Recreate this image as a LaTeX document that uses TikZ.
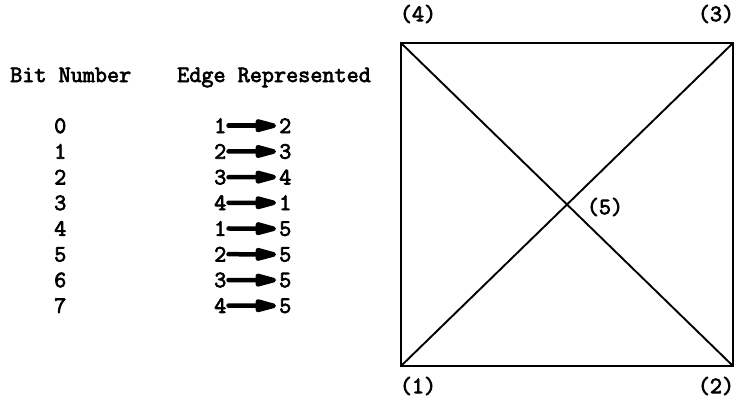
\documentclass[tikz,border=0pt]{standalone}
\usepackage{fontspec}
\newfontfamily\tw{Latin Modern Mono}[FakeBold=3]
\usetikzlibrary{arrows.meta,calc}
\tikzset{
  txt/.style={font=\tw\fontsize{23.5}{26}\selectfont, inner sep=0pt, anchor=base west},
  lbl/.style={font=\tw\fontsize{23.5}{26}\selectfont, inner sep=0pt},
  edgearrow/.style={line width=4.5pt, line cap=round, -{Triangle[length=28pt,width=13pt,round]}, shorten <=2pt, shorten >=3pt},
  sq/.style={line width=1.9pt, line join=miter}
}
\begin{document}
\begin{tikzpicture}[x=1pt,y=-1pt]
\useasboundingbox (0,0) rectangle (734,407);
% headings
\node[txt] (hbit) at (10,82) {Bit Number};
\node[txt] (hedge) at (177,82) {Edge Represented};
% rows
\foreach \i/\a/\b [count=\k from 0] in {0/1/2,1/2/3,2/3/4,3/4/1,4/1/5,5/2/5,6/3/5,7/4/5}{
  \pgfmathsetmacro{\yy}{133+25.7*\k}
  \node[txt] (bit\i) at (54,\yy) {\i};
  \node[txt] (ea\i) at (214,\yy) {\a};
  \node[txt] (eb\i) at (279,\yy) {\b};
  \draw[edgearrow] (ea\i.east) -- (eb\i.west);
}
% graph
\coordinate (n1) at (401,366);
\coordinate (n2) at (733,366);
\coordinate (n3) at (733,43);
\coordinate (n4) at (401,43);
\coordinate (n5) at ($(n1)!0.5!(n3)$);
\draw[sq] (n1) -- (n2) -- (n3) -- (n4) -- cycle;
\draw[sq] (n1) -- (n5) -- (n3);
\draw[sq] (n4) -- (n5) -- (n2);
\node[lbl] (l4) at (418,14) {(4)};
\node[lbl] (l3) at (716,14) {(3)};
\node[lbl] (l1) at (418,386) {(1)};
\node[lbl] (l2) at (716,386) {(2)};
\node[lbl] (l5) at (605,207) {(5)};
\end{tikzpicture}
\end{document}
